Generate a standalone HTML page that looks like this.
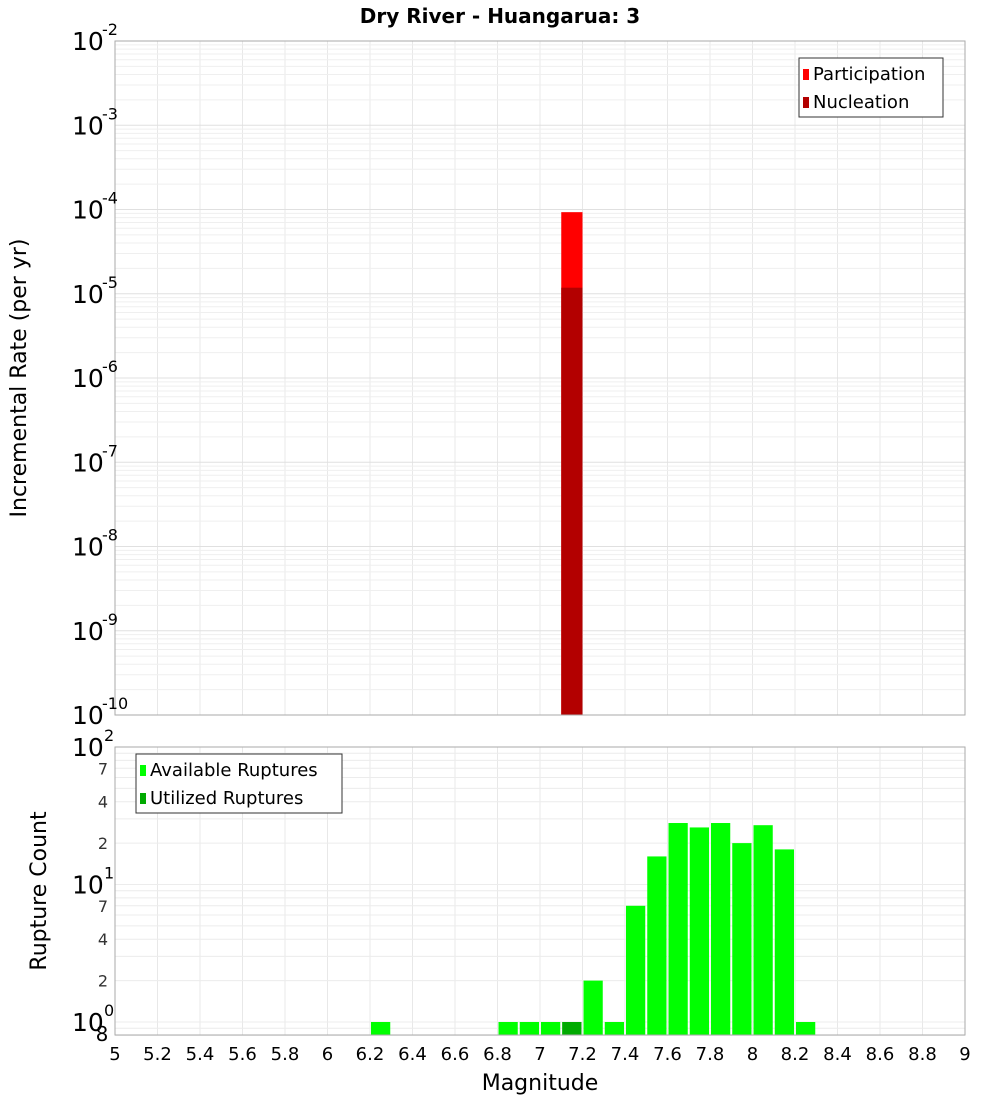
<!DOCTYPE html>
<html><head><meta charset="utf-8"><style>
html,body{margin:0;padding:0;background:#fff;}
svg{display:block;font-family:"DejaVu Sans","Liberation Sans",sans-serif;}
</style></head><body>
<svg id="chart" width="1000" height="1100" viewBox="0 0 1000 1100" xmlns="http://www.w3.org/2000/svg">
<text x="500" y="23" text-anchor="middle" font-size="20" font-weight="bold">Dry River - Huangarua: 3</text>
<text transform="translate(26,378) rotate(-90)" text-anchor="middle" font-size="22">Incremental Rate (per yr)</text>
<text transform="translate(46,891) rotate(-90)" text-anchor="middle" font-size="22">Rupture Count</text>
<text x="540" y="1090" text-anchor="middle" font-size="22">Magnitude</text>
<g id="g"></g>
</svg>
<script>
// Top chart data
const rateBins = [7.15];
const participationRates = [9.3e-5];
const nucleationRates = [1.18e-5];
// Bottom chart data
const countBins = [6.25, 6.85, 6.95, 7.05, 7.15, 7.25, 7.35, 7.45, 7.55, 7.65, 7.75, 7.85, 7.95, 8.05, 8.15, 8.25];
const availableCounts = [1, 1, 1, 1, 1, 2, 1, 7, 16, 28, 26, 28, 20, 27, 18, 1];
const utilizedBins = [7.15];
const utilizedCounts = [1];
const xTicks = ["5","5.2","5.4","5.6","5.8","6","6.2","6.4","6.6","6.8","7","7.2","7.4","7.6","7.8","8","8.2","8.4","8.6","8.8","9"];
const topExps = [-2,-3,-4,-5,-6,-7,-8,-9,-10];

const NS="http://www.w3.org/2000/svg";
const g=document.getElementById('g');
function el(tag,attrs,parent){const e=document.createElementNS(NS,tag);for(const k in attrs)e.setAttribute(k,attrs[k]);(parent||g).appendChild(e);return e;}
const L=115,R=965;
const xs=v=>L+(v-5)/4*(R-L);
const T1=41,B1=715;
const ys1=v=>T1+(-2-Math.log10(v))*(B1-T1)/8;
const T2=747,B2=1035;
const ys2=v=>1022-Math.log10(v)*137.5;

// grids
const grid=el('g',{});


xTicks.forEach(t=>{const x=xs(+t);el('line',{x1:x,x2:x,y1:T1,y2:B1,stroke:'#e8e8e8'},grid);el('line',{x1:x,x2:x,y1:T2,y2:B2,stroke:'#e8e8e8'},grid);});
for(let e=-10;e<-2;e++)for(let m=1;m<10;m++){const y=ys1(m*Math.pow(10,e));el('line',{x1:L,x2:R,y1:y,y2:y,stroke:m==1?'#e0e0e0':'#efefef'},grid);}
[0.8,0.9].concat([1,2,3,4,5,6,7,8,9,10,20,30,40,50,60,70,80,90,100]).forEach(v=>{const y=ys2(v);el('line',{x1:L,x2:R,y1:y,y2:y,stroke:'#ececec'},grid);});

// top bars
const w=0.1*(R-L)/4;
rateBins.forEach((b,i)=>{
  const r=el('rect',{x:xs(b)-w/2,y:ys1(participationRates[i]),width:w,height:B1-ys1(participationRates[i]),fill:'#ff0000'});
  
  
  const n=el('rect',{x:xs(b)-w/2,y:ys1(nucleationRates[i]),width:w,height:B1-ys1(nucleationRates[i]),fill:'#b30000'});
  
  
});
// bottom bars
countBins.forEach((b,i)=>{
  const r=el('rect',{x:xs(b)-w/2+1,y:ys2(availableCounts[i]),width:w-2,height:B2-ys2(availableCounts[i]),fill:'#00ff00'});
  
  
});
utilizedBins.forEach((b,i)=>{
  const r=el('rect',{x:xs(b)-w/2+1,y:ys2(utilizedCounts[i]),width:w-2,height:B2-ys2(utilizedCounts[i]),fill:'#00aa00'});
  
  
});

// frames
el('rect',{x:L,y:T1,width:R-L,height:B1-T1,fill:'none',stroke:'#aaa'});
el('rect',{x:L,y:T2,width:R-L,height:B2-T2,fill:'none',stroke:'#aaa'});

// top y labels
topExps.forEach(e=>{
  const y=ys1(Math.pow(10,e));
  const t=el('text',{x:72,y:y+9,'font-size':25});
  
  
  t.textContent='10';
  const s=el('text',{x:102,y:y-6,'font-size':16});
  
  
  s.textContent=String(e);
});
// bottom y labels
[[2,'2'],[1,'1'],[0,'0']].forEach(([e,s])=>{
  const y=ys2(Math.pow(10,e));
  const t=el('text',{x:72,y:y+9,'font-size':25});
  
  
  t.textContent='10';
  const u=el('text',{x:104,y:y-6,'font-size':16});
  
  
  u.textContent=s;
});
[[70,'7'],[40,'4'],[20,'2'],[7,'7'],[4,'4'],[2,'2']].forEach(([v,s])=>{
  const t=el('text',{x:108,y:ys2(v)+6,'font-size':16,'text-anchor':'end',fill:'#333'});
  
  
  t.textContent=s;
});
const e8=el('text',{x:102,y:1041,'font-size':20,'text-anchor':'middle'});


e8.textContent='8';
// x labels
xTicks.forEach(t=>{
  const tx=el('text',{x:xs(+t),y:1060,'font-size':18,'text-anchor':'middle'});
  
  
  tx.textContent=t;
});
// legends
function legend(x,y,wd,items,name){
  const lg=el('g',{});
  
  
  el('rect',{x:x,y:y,width:wd,height:59,fill:'#fff',stroke:'#333'},lg);
  items.forEach(([c,txt],i)=>{
    el('rect',{x:x+4,y:y+11+i*28,width:6,height:11,fill:c},lg);
    const t=el('text',{x:x+14,y:y+22+i*28,'font-size':18},lg);
    t.textContent=txt;
  });
}
legend(799,58,144,[['#ff0000','Participation'],['#b30000','Nucleation']],'top-legend');
legend(136,754,206,[['#00ff00','Available Ruptures'],['#00aa00','Utilized Ruptures']],'bottom-legend');
</script>
</body></html>
